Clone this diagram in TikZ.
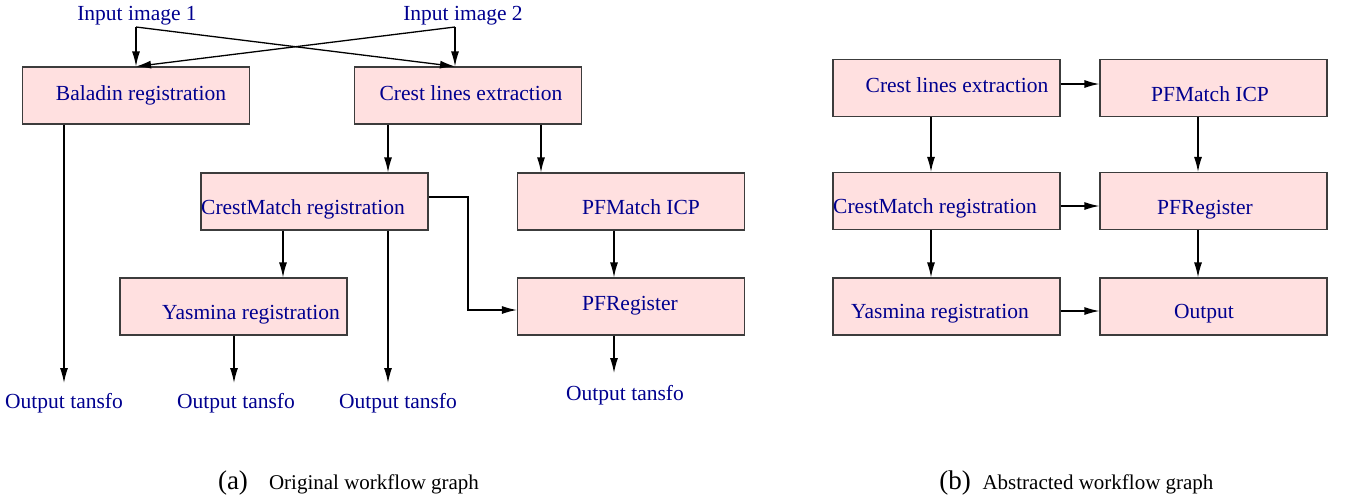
\documentclass[tikz,border=0pt]{standalone}
\usepackage{fontspec}
\setmainfont{Liberation Serif}
\usetikzlibrary{arrows.meta}
\definecolor{wfblue}{RGB}{0,0,143}
\definecolor{wfpink}{RGB}{255,224,224}
\definecolor{wfedge}{RGB}{60,60,60}
\tikzset{
  wfbox/.style={draw=wfedge, line width=1.1pt, fill=wfpink, inner sep=0pt,
    minimum width=227pt, minimum height=57pt},
  wftext/.style={text=wfblue, anchor=base, inner sep=0pt,
    font=\fontsize{21.5}{24}\selectfont},
  captext/.style={text=black, anchor=base, inner sep=0pt,
    font=\fontsize{21}{24}\selectfont},
  caplet/.style={text=black, anchor=base, inner sep=0pt,
    font=\fontsize{27}{30}\selectfont},
  arr/.style={draw=black, line width=1.3pt, -{Latex[length=15pt,width=8pt]}},
}
\begin{document}
\begin{tikzpicture}[x=1pt,y=-1pt]
\useasboundingbox (0,0) rectangle (1347,499);

% ---------- original workflow graph ----------
\node[wfbox] (bal)   at (136,95.5)  {};
\node[wfbox] (crest) at (468,95.5)  {};
\node[wfbox] (cm)    at (314.5,201.5) {};
\node[wfbox] (pfm)   at (631,201.5) {};
\node[wfbox] (yas)   at (233.5,306.5) {};
\node[wfbox] (pfr)   at (631,306.5) {};

\node[wftext] (tin1)  at (137,20)  {Input image 1};
\node[wftext] (tin2)  at (463,20)  {Input image 2};
\node[wftext] (tbal)  at (141,100) {Baladin registration};
\node[wftext] (tcrest) at (471,100) {Crest lines extraction};
\node[wftext] (tcm)   at (303,214) {CrestMatch registration};
\node[wftext] (tpfm)  at (641,214) {PFMatch ICP};
\node[wftext] (tyas)  at (251,319) {Yasmina registration};
\node[wftext] (tpfr)  at (630,310) {PFRegister};
\node[wftext] (out1)  at (64,408)  {Output tansfo};
\node[wftext] (out2)  at (236,408) {Output tansfo};
\node[wftext] (out3)  at (398,408) {Output tansfo};
\node[wftext] (out4)  at (625,400) {Output tansfo};

\coordinate (in1) at (136,27);
\coordinate (in2) at (455,27);

\draw[arr] (in1) -- (in1 |- bal.north);
\draw[arr] (in1) -- (in2 |- crest.north);
\draw[arr] (in2) -- (in2 |- crest.north);
\draw[arr] (in2) -- (in1 |- bal.north);

\draw[arr] (64,0 |- bal.south) -- (64,383);
\draw[arr] (388,0 |- crest.south) -- (388,0 |- cm.north);
\draw[arr] (541,0 |- crest.south) -- (541,0 |- pfm.north);
\draw[arr] (283,0 |- cm.south) -- (283,0 |- yas.north);
\draw[arr] (388,0 |- cm.south) -- (388,383);
\draw[arr] (cm.east |- 0,197) -- (468,197) -- (468,310) -- (pfr.west |- 0,310);
\draw[arr] (614,0 |- pfm.south) -- (614,0 |- pfr.north);
\draw[arr] (234,0 |- yas.south) -- (234,383);
\draw[arr] (614,0 |- pfr.south) -- (614,373);

% ---------- abstracted workflow graph ----------
\node[wfbox] (rcrest) at (946.5,88)  {};
\node[wfbox] (rpfm)   at (1213.5,88) {};
\node[wfbox] (rcm)    at (946.5,201) {};
\node[wfbox] (rpfr)   at (1213.5,201) {};
\node[wfbox] (ryas)   at (946.5,306.5) {};
\node[wfbox] (rout)   at (1213.5,306.5) {};

\node[wftext] (trcrest) at (957,92)   {Crest lines extraction};
\node[wftext] (trpfm)   at (1210,101) {PFMatch ICP};
\node[wftext] (trcm)    at (935,213)  {CrestMatch registration};
\node[wftext] (trpfr)   at (1205,214) {PFRegister};
\node[wftext] (tryas)   at (940,318)  {Yasmina registration};
\node[wftext] (trout)   at (1204,318) {Output};

\draw[arr] (rcrest.east |- 0,84)  -- (rpfm.west |- 0,84);
\draw[arr] (rcm.east |- 0,206)    -- (rpfr.west |- 0,206);
\draw[arr] (ryas.east |- 0,311)   -- (rout.west |- 0,311);
\draw[arr] (931,0 |- rcrest.south) -- (931,0 |- rcm.north);
\draw[arr] (931,0 |- rcm.south)    -- (931,0 |- ryas.north);
\draw[arr] (1198,0 |- rpfm.south)  -- (1198,0 |- rpfr.north);
\draw[arr] (1198,0 |- rpfr.south)  -- (1198,0 |- rout.north);

% ---------- captions ----------
\node[caplet]  (capa)  at (233,489)  {(a)};
\node[captext] (capat) at (374,489)  {Original workflow graph};
\node[caplet]  (capb)  at (955,489)  {(b)};
\node[captext] (capbt) at (1098,489) {Abstracted workflow graph};
\end{tikzpicture}
\end{document}
